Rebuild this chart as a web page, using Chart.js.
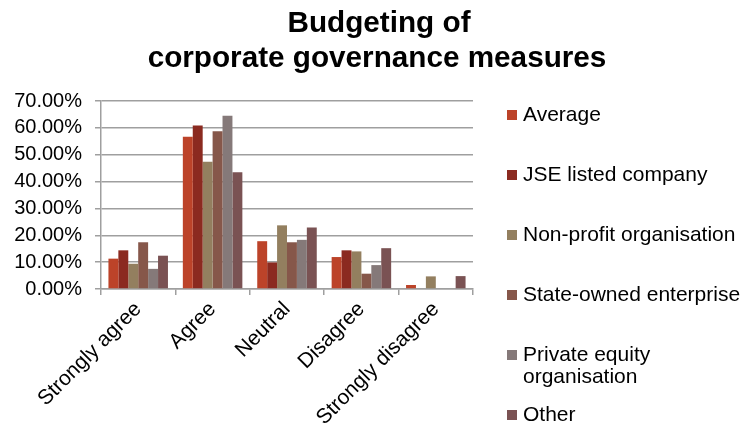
<!DOCTYPE html>
<html>
<head>
<meta charset="utf-8">
<title>Budgeting of corporate governance measures</title>
<script src="https://cdn.jsdelivr.net/npm/chart.js@4.4.0/dist/chart.umd.min.js"></script>
<style>
  html, body { margin: 0; padding: 0; background: #fff; }
</style>
</head>
<body>
<canvas id="myChart" width="745" height="432"></canvas>
<script>
const ctx = document.getElementById('myChart');

// Survey answers (percent of respondents)
const categories = ['Strongly agree', 'Agree', 'Neutral', 'Disagree', 'Strongly disagree'];
const seriesNames = ['Average', 'JSE listed company', 'Non-profit organisation',
  'State-owned enterprise', 'Private equity organisation', 'Other'];

const average = [11.3, 56.7, 17.8, 11.9, 1.5];
const jseListed = [14.4, 60.9, 9.9, 14.4, 0];
const nonProfit = [9.4, 47.4, 23.7, 14.0, 4.7];
const stateOwned = [17.4, 58.7, 17.4, 5.7, 0];
const privateEquity = [7.5, 64.5, 18.3, 8.9, 0];
const other = [12.4, 43.5, 22.9, 15.2, 4.8];

const yTicks = [0, 10, 20, 30, 40, 50, 60, 70];
const titleLines = ['Budgeting of', 'corporate governance measures'];

const colors = ['#BC4329', '#8B2A20', '#937F5F', '#86574A', '#857979', '#7A5253'];
const seriesValues = [average, jseListed, nonProfit, stateOwned, privateEquity, other];

const FONT = '"Liberation Sans", Arial, sans-serif';
const gridColor = '#9f9f9f';

// two-line bold title
const titlePlugin = {
  id: 'twoLineTitle',
  afterDraw(chart) {
    const c = chart.ctx;
    c.save();
    c.fillStyle = '#000';
    c.font = 'bold 29.7px ' + FONT;
    c.textAlign = 'center';
    c.textBaseline = 'alphabetic';
    c.fillText(titleLines[0], 379, 32);
    c.fillText(titleLines[1], 377, 67);
    c.restore();
  }
};

// legend on the right, long names wrap onto a second line
const sideLegend = {
  id: 'sideLegend',
  afterDraw(chart) {
    const c = chart.ctx;
    const maxW = 222;
    c.save();
    c.font = '21px ' + FONT;
    c.textBaseline = 'middle';
    c.textAlign = 'left';
    chart.data.datasets.forEach((ds, i) => {
      const y = 115 + i * 60;
      c.fillStyle = ds.backgroundColor;
      c.fillRect(507, y - 5, 10, 10);
      const words = ds.label.split(' ');
      const lines = [];
      let line = '';
      words.forEach(w => {
        const test = line ? line + ' ' + w : w;
        if (c.measureText(test).width > maxW && line) {
          lines.push(line);
          line = w;
        } else {
          line = test;
        }
      });
      lines.push(line);
      c.fillStyle = '#000';
      lines.forEach((ln, j) => c.fillText(ln, 523, y + j * 22));
    });
    c.restore();
  }
};

const data = {
  labels: categories,
  datasets: seriesNames.map((name, i) => ({
    label: name,
    data: seriesValues[i],
    backgroundColor: colors[i],
    borderWidth: 0,
    categoryPercentage: 0.8,
    barPercentage: 1.0
  }))
};

new Chart(ctx, {
  type: 'bar',
  data: data,
  plugins: [titlePlugin, sideLegend],
  options: {
    responsive: false,
    devicePixelRatio: 1,
    animation: false,
    layout: { padding: { top: 101, right: 272, left: 0, bottom: 0 } },
    plugins: {
      legend: { display: false },
      title: { display: false },
      tooltip: { enabled: false }
    },
    scales: {
      x: {
        afterFit: s => { s.height = 143; },
        grid: { drawOnChartArea: false, drawTicks: true, tickLength: 6, color: gridColor, lineWidth: 1.5 },
        border: { color: gridColor, width: 1.5 },
        ticks: {
          minRotation: 45,
          maxRotation: 45,
          autoSkip: false,
          color: '#000',
          padding: 2,
          font: { family: FONT, size: 21 }
        }
      },
      y: {
        min: 0,
        max: 70,
        afterFit: s => { s.width = 101; },
        afterBuildTicks: s => { s.ticks = yTicks.map(v => ({ value: v })); },
        grid: { color: gridColor, lineWidth: 1.5, tickLength: 6 },
        border: { color: gridColor, width: 1.5 },
        ticks: {
          autoSkip: false,
          color: '#000',
          padding: 13,
          font: { family: FONT, size: 20 },
          callback: v => v.toFixed(2) + '%'
        }
      }
    }
  }
});
</script>
</body>
</html>
